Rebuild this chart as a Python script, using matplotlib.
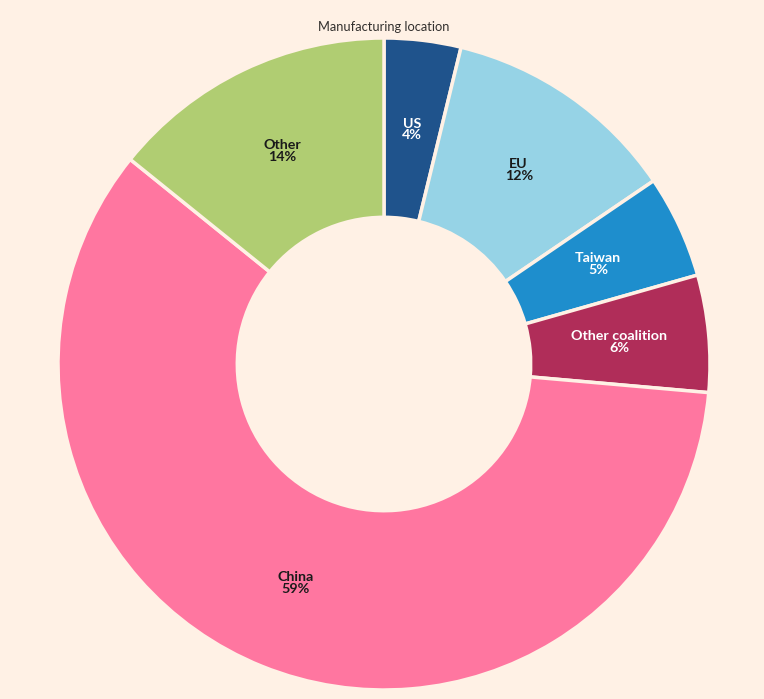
import matplotlib
matplotlib.use("Agg")
from matplotlib import pyplot as plt
import numpy as np

# data (shares in %, labels shown rounded)
locations = ["US", "EU", "Taiwan", "Other coalition", "China", "Other"]
shares = [3.8, 11.7, 5.1, 5.8, 59.4, 14.2]
colours = ["#1f538c", "#96d3e6", "#1e8ecd", "#b02d59", "#ff76a0", "#b0cd72"]
text_colours = ["white", "#1a1a1a", "white", "white", "#1a1a1a", "#1a1a1a"]

bg = "#fff1e5"
plt.rcParams['font.family'] = ['Lato', 'DejaVu Sans']

fig = plt.figure(figsize=(7.64, 6.99), dpi=100, facecolor=bg)
W, H = 764, 699
cx, cy, R = 384, 364, 326
ax = fig.add_axes([(cx - R) / W, (H - cy - R) / H, 2 * R / W, 2 * R / H])
ax.set_facecolor(bg)

inner = 0.45
wedges, _ = ax.pie(shares, colors=colours, startangle=90, counterclock=False,
                   radius=1, wedgeprops=dict(width=1 - inner, edgecolor=bg, linewidth=2.5))
for w in wedges:
    w.set_clip_on(False)

mid_r = (1 + inner) / 2
for w, name, val, tc in zip(wedges, locations, shares, text_colours):
    ang = np.deg2rad((w.theta1 + w.theta2) / 2)
    x, y = mid_r * np.cos(ang), mid_r * np.sin(ang)
    ax.text(x, y, f"{name}\n{round(val)}%", ha="center", va="center", fontsize=10.3,
            fontweight="bold", color=tc, linespacing=0.95)

ax.set_xlim(-1, 1)
ax.set_ylim(-1, 1)
ax.set_aspect("equal")
ax.axis("off")

fig.text(cx / W, 1 - 27 / H, "Manufacturing location", ha="center", va="center",
         fontsize=9.3, color="#33302e")

fig.savefig("out.png", dpi=100, facecolor=bg)
